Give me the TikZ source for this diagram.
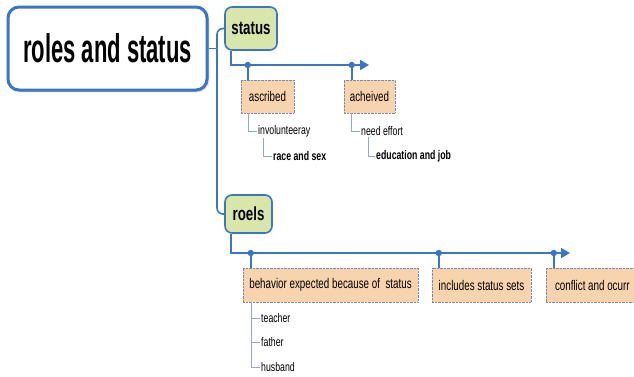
\documentclass[tikz,border=0pt]{standalone}
\usepackage{fontspec}
\setmainfont{Liberation Sans}[FakeStretch=0.7]
\newfontfamily\titlefont{Liberation Sans}[FakeStretch=0.55]
\usepackage{tikz}
\usetikzlibrary{positioning, arrows.meta, shadows.blur}
\usepackage{xcolor}
\definecolor{linkblue}{RGB}{58,118,196}
\definecolor{topicgreen}{RGB}{216,230,169}
\definecolor{peach}{RGB}{248,212,174}
\definecolor{boxedge}{RGB}{120,138,176}
\definecolor{treegray}{RGB}{150,166,200}

\begin{document}
\begin{tikzpicture}[x=1pt, y=-1pt,
	topic/.style={draw=linkblue, line width=1.6pt, rounded corners=7pt, fill=topicgreen, inner sep=0pt,
		font=\fontsize{19}{21}\selectfont\bfseries},
	subtopic/.style={draw=boxedge, densely dotted, fill=peach, inner sep=0pt, minimum height=33pt,
		font=\fontsize{14}{16}\selectfont},
	leaf/.style={anchor=west, inner sep=1pt, font=\fontsize{12.5}{14}\selectfont},
	link/.style={linkblue, line width=1.6pt},
	tree/.style={treegray, line width=0.9pt}]
			\useasboundingbox (0,0) rectangle (634,376);
			\clip (0,0) rectangle (634,376);
			%Main topic
			\node[draw=linkblue, line width=3pt, rounded corners=11pt, fill=white, minimum width=199pt, minimum height=83pt,
				blur shadow={shadow xshift=1pt, shadow yshift=-1pt, shadow blur steps=6}, font=\titlefont\fontsize{40}{44}\selectfont\bfseries]
				(main) at (107.5,48.5) {roles and status};
			%Status and roels
			\node[topic, minimum width=52pt, minimum height=43pt] (status) at (251,28.5) {status};
			\node[topic, minimum width=47pt, minimum height=38pt] (roels) at (248.5,214) {roels};
			\coordinate (fork) at (217,48.5);
			\draw[link] (main.east) -- (fork);
			\draw[link, rounded corners=6pt] (fork) |- (status.west);
			\draw[link, rounded corners=6pt] (fork) |- (roels.west);
			% Status branch
			\node[subtopic, minimum width=53pt] (ascribed) at (267.5,96.5) {ascribed};
			\node[subtopic, minimum width=51pt] (acheived) at (369.5,96.5) {acheived};
			\coordinate (send) at (369,65);
			\draw[link, -{Triangle[length=9pt,width=10pt]}] ([xshift=7pt]status.south west) |- (send);
			\coordinate (ja) at ([xshift=7pt]ascribed.north west);
			\coordinate (jb) at ([xshift=8pt]acheived.north west);
			\draw[link] (ja) -- (ja |- send);
			\draw[link] (jb) -- (jb |- send);
			\fill[linkblue] (ja |- send) circle (3.2pt);
			\fill[linkblue] (jb |- send) circle (3.2pt);
			% Leaves of status
			\node[leaf] (invol) at (257,131) {involunteeray};
			\node[leaf, font=\fontsize{12.5}{14}\selectfont\bfseries] (race) at (272,156) {race and sex};
			\node[leaf] (effort) at (360,131) {need effort};
			\node[leaf, font=\fontsize{12.5}{14}\selectfont\bfseries] (edu) at (375,156) {education and job};
			\draw[tree] ([xshift=8pt]ascribed.south west) |- (invol.west);
			\draw[tree] ([xshift=6pt]invol.south west) |- (race.west);
			\draw[tree] ([xshift=8pt]acheived.south west) |- (effort.west);
			\draw[tree] ([xshift=8pt]effort.south west) |- (edu.west);
			% Roels branch
			\node[subtopic, minimum width=175pt, minimum height=34pt] (behav) at (330.5,285) {behavior expected because of\ \ status};
			\node[subtopic, minimum width=99pt, minimum height=34pt] (incl) at (481.5,285) {includes status sets};
			\node[subtopic, minimum width=100pt, minimum height=34pt] (confl) at (596,285) {\makebox[82pt][l]{conflict and ocurr}};
			\coordinate (rend) at (570,253);
			\draw[link, -{Triangle[length=9pt,width=10pt]}] ([xshift=7pt]roels.south west) |- (rend);
			\coordinate (ra) at ([xshift=8pt]behav.north west);
			\coordinate (rb) at ([xshift=7pt]incl.north west);
			\coordinate (rc) at ([xshift=8pt]confl.north west);
			\foreach \j in {ra,rb,rc}{
				\draw[link] (\j) -- (\j |- rend);
				\fill[linkblue] (\j |- rend) circle (3.2pt);
			}
			% Leaves of roels
			\node[leaf] (teacher) at (260,318) {teacher};
			\node[leaf] (father) at (260,342) {father};
			\node[leaf] (husband) at (260,367) {husband};
			\draw[tree] ([xshift=9pt]behav.south west) |- (husband.west);
			\draw[tree] ([xshift=9pt]behav.south west |- teacher.west) -- (teacher.west);
			\draw[tree] ([xshift=9pt]behav.south west |- father.west) -- (father.west);
		\end{tikzpicture}
\end{document}
